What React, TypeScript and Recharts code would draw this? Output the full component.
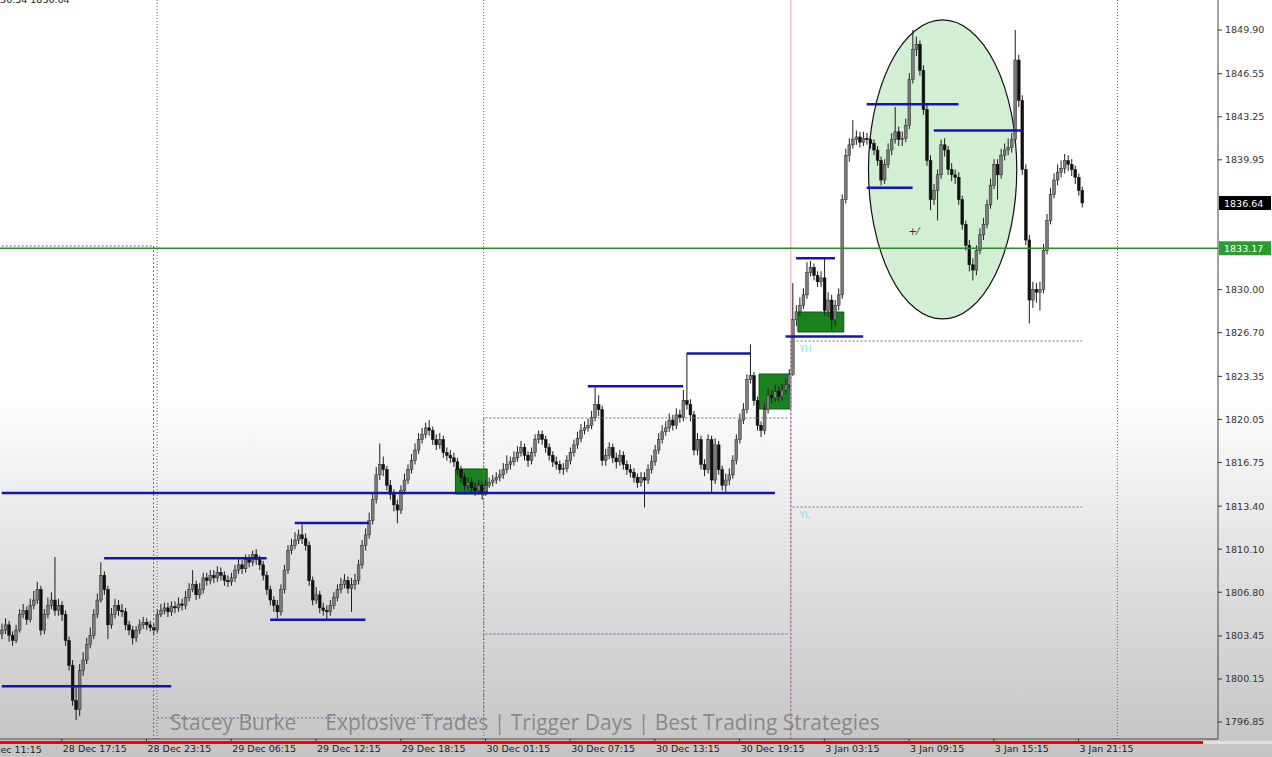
import React from 'react'
import {
  ComposedChart, Bar, XAxis, YAxis, ReferenceLine, ReferenceArea,
} from 'recharts'

// M15 candles, 28 Dec -> 3 Jan. open of each bar = previous close
const FIRST_OPEN = 1803.6

const CLOSE = [
  1803.9, 1804.3, 1803.5, 1803.1, 1803.9, 1805.1, 1805.4, 1804.7, 1805.8, 1806.2,
  1807.0, 1803.9, 1805.1, 1805.8, 1806.2, 1805.4, 1805.8, 1805.1, 1803.1, 1801.2,
  1798.5, 1797.8, 1800.8, 1801.6, 1802.8, 1803.5, 1805.1, 1806.2, 1808.1, 1807.0,
  1804.3, 1805.1, 1805.8, 1805.4, 1805.3, 1804.3, 1803.9, 1803.3, 1803.9, 1804.3,
  1804.5, 1804.3, 1804.1, 1803.9, 1805.1,
  1805.4, 1805.6, 1805.3, 1805.7, 1805.6, 1805.9, 1805.8, 1806.4, 1807.0, 1807.4,
  1806.6, 1807.0, 1807.9, 1807.7, 1808.1, 1807.9, 1808.3, 1808.1, 1807.7, 1807.6,
  1807.9, 1808.5, 1808.9, 1808.6, 1809.3, 1809.1, 1809.7, 1809.3, 1808.9, 1808.1,
  1807.0, 1806.2, 1805.8, 1805.3, 1807.0, 1808.5, 1810.0, 1810.4, 1810.8, 1811.2,
  1810.9, 1810.4, 1807.7, 1806.2, 1806.6, 1805.6, 1805.4, 1805.3, 1805.8, 1806.4,
  1807.0, 1807.4, 1807.7, 1807.1, 1807.4, 1807.7, 1808.9, 1810.4, 1811.2, 1812.3,
  1813.9, 1815.8, 1816.6, 1816.2, 1815.0, 1814.3, 1813.5, 1813.1, 1814.6, 1815.4,
  1816.2, 1816.9, 1817.7, 1818.5, 1818.9, 1819.4, 1819.2, 1818.5, 1818.1, 1818.5,
  1817.5, 1817.3, 1817.1, 1816.8, 1816.2, 1815.6, 1815.0, 1815.2, 1814.8, 1814.6,
  1815.0, 1814.5, 1815.0, 1815.2, 1815.4, 1815.6, 1815.8, 1816.2, 1816.6, 1816.8,
  1817.1, 1817.5, 1817.9, 1817.3, 1816.9, 1817.5, 1818.5, 1818.9, 1818.5, 1817.9,
  1817.3, 1816.8, 1816.6, 1816.2, 1816.3, 1816.9, 1817.5, 1818.1, 1818.6, 1819.2,
  1819.4, 1819.6, 1820.2, 1821.2, 1820.8, 1816.9, 1817.3, 1817.9, 1817.1, 1816.8,
  1817.3, 1816.6, 1816.2, 1816.0, 1815.6, 1815.2, 1815.6, 1815.4, 1816.2, 1816.8,
  1817.7, 1818.5, 1819.1, 1819.4, 1820.0, 1819.6, 1820.4, 1820.2, 1821.5, 1821.2,
  1820.4, 1817.7, 1818.5, 1816.6, 1816.2, 1818.5, 1815.4, 1818.1, 1816.2, 1815.0,
  1815.4, 1815.8, 1816.9, 1818.5, 1820.0, 1820.8, 1823.1, 1823.4, 1821.5, 1819.6,
  1819.2, 1820.8, 1821.9, 1821.7, 1822.2, 1821.8, 1822.3, 1822.7, 1823.5,
  1827.7, 1828.3, 1828.8, 1829.6, 1831.3, 1831.7, 1831.1, 1830.6, 1830.9, 1828.4,
  1829.2, 1827.7, 1828.8, 1829.6, 1836.9, 1840.3, 1841.1, 1841.5, 1841.7, 1841.3,
  1841.6, 1841.5, 1841.2, 1840.7, 1839.9, 1838.4, 1839.6, 1840.7, 1841.5, 1842.1,
  1841.5, 1841.6, 1842.6, 1846.1, 1848.4, 1848.8, 1846.8, 1843.8, 1839.9, 1836.9,
  1837.6, 1838.8, 1841.1, 1840.7, 1839.2, 1838.8, 1838.6, 1836.9, 1835.0, 1833.4,
  1831.9, 1831.5, 1833.0, 1834.2, 1835.0, 1836.5, 1838.0, 1839.6, 1838.8, 1840.3,
  1840.7, 1840.9, 1841.5, 1847.6, 1844.5, 1839.2, 1833.8, 1829.2, 1830.0, 1829.8,
  1830.0, 1833.0, 1835.3, 1837.3, 1838.4, 1839.0, 1839.3, 1839.9, 1839.6, 1839.2,
  1838.6, 1837.6, 1836.64,
]

const HIGH = [
  1804.4, 1804.8, 1804.6, 1803.8, 1804.3, 1805.5, 1805.9, 1805.7, 1806.3, 1806.9,
  1807.6, 1807.3, 1805.5, 1806.4, 1806.8, 1809.5, 1806.3, 1806.1, 1805.4, 1803.4,
  1801.6, 1799.6, 1801.3, 1802.2, 1803.3, 1804.1, 1805.5, 1806.7, 1809.1, 1808.4,
  1807.3, 1805.6, 1806.3, 1806.2, 1805.9, 1805.6, 1804.6, 1804.2, 1804.2, 1804.7,
  1804.9, 1804.8, 1804.6, 1804.4, 1805.5,
  1805.9, 1806.0, 1806.0, 1806.1, 1806.1, 1806.4, 1806.3, 1806.9, 1807.5, 1808.5,
  1807.7, 1807.5, 1808.3, 1808.3, 1808.5, 1808.5, 1808.8, 1808.7, 1808.4, 1808.1,
  1808.3, 1808.9, 1809.4, 1809.3, 1809.7, 1809.7, 1810.0, 1810.1, 1809.6, 1809.2,
  1808.4, 1807.3, 1806.5, 1806.2, 1807.4, 1808.9, 1810.4, 1810.9, 1811.4, 1811.6,
  1812.0, 1811.3, 1810.7, 1808.0, 1807.2, 1806.9, 1806.0, 1805.8, 1806.2, 1806.8,
  1807.4, 1807.9, 1808.2, 1808.0, 1807.9, 1808.2, 1809.3, 1810.8, 1811.7, 1812.9,
  1814.4, 1816.4, 1818.2, 1817.2, 1816.5, 1815.4, 1814.7, 1813.9, 1815.0, 1815.9,
  1816.6, 1817.4, 1818.2, 1819.0, 1819.4, 1819.8, 1820.0, 1819.5, 1818.9, 1819.0,
  1818.8, 1817.9, 1817.7, 1817.5, 1817.1, 1816.5, 1815.9, 1815.6, 1815.6, 1815.2,
  1815.4, 1815.3, 1815.4, 1815.6, 1815.8, 1816.0, 1816.2, 1816.7, 1817.3, 1817.2,
  1817.6, 1818.0, 1818.4, 1818.2, 1817.6, 1817.9, 1818.9, 1819.2, 1819.2, 1818.8,
  1818.2, 1817.6, 1817.2, 1816.9, 1816.7, 1817.3, 1817.9, 1818.5, 1819.1, 1819.7,
  1819.9, 1820.1, 1820.7, 1822.5, 1821.9, 1821.1, 1817.8, 1818.3, 1818.2, 1817.5,
  1817.7, 1817.6, 1816.9, 1816.6, 1816.3, 1815.9, 1816.0, 1816.0, 1816.6, 1817.3,
  1818.1, 1819.0, 1819.6, 1819.9, 1820.5, 1820.4, 1820.9, 1820.8, 1822.3, 1825.1,
  1821.6, 1820.7, 1819.0, 1818.8, 1817.0, 1818.9, 1818.8, 1818.6, 1818.4, 1816.5,
  1815.9, 1816.3, 1817.3, 1818.9, 1820.5, 1821.3, 1823.5, 1825.8, 1823.7, 1821.8,
  1819.9, 1821.2, 1822.4, 1822.3, 1822.7, 1822.6, 1822.8, 1823.2, 1823.9,
  1830.5, 1828.8, 1829.4, 1830.1, 1832.1, 1832.2, 1832.0, 1831.4, 1831.4, 1832.4,
  1829.8, 1829.6, 1829.2, 1830.1, 1837.3, 1840.8, 1841.6, 1843.0, 1842.2, 1842.1,
  1842.1, 1842.0, 1841.9, 1841.5, 1841.0, 1840.2, 1840.0, 1841.2, 1842.0, 1844.0,
  1842.5, 1842.1, 1843.1, 1846.6, 1849.9, 1849.4, 1849.1, 1847.2, 1844.2, 1840.3,
  1838.1, 1839.2, 1841.5, 1841.6, 1841.0, 1839.7, 1839.2, 1839.0, 1837.2, 1835.3,
  1833.8, 1832.4, 1833.4, 1834.7, 1835.5, 1836.9, 1838.5, 1840.0, 1840.0, 1840.8,
  1841.2, 1841.6, 1842.0, 1849.9, 1848.0, 1844.9, 1839.6, 1834.2, 1830.6, 1830.5,
  1830.6, 1833.5, 1835.8, 1837.8, 1838.9, 1839.6, 1839.9, 1840.4, 1840.3, 1840.0,
  1839.5, 1838.9, 1837.9,
]

const LOW = [
  1803.2, 1803.6, 1803.0, 1802.7, 1802.9, 1803.7, 1804.8, 1804.3, 1804.5, 1805.5,
  1805.9, 1803.5, 1803.6, 1804.8, 1805.5, 1805.0, 1805.0, 1804.6, 1802.7, 1800.8,
  1798.1, 1797.0, 1797.3, 1800.4, 1801.3, 1802.5, 1803.2, 1804.8, 1806.0, 1806.6,
  1803.2, 1804.0, 1804.8, 1805.0, 1804.9, 1803.9, 1803.5, 1802.8, 1803.0, 1803.6,
  1804.0, 1803.9, 1803.8, 1803.5, 1803.7,
  1804.9, 1805.1, 1804.9, 1805.0, 1805.2, 1805.3, 1805.4, 1805.5, 1806.1, 1806.8,
  1806.2, 1806.3, 1806.7, 1807.3, 1807.4, 1807.5, 1807.6, 1807.7, 1807.3, 1807.2,
  1807.3, 1807.6, 1808.2, 1808.2, 1808.3, 1808.7, 1808.8, 1808.9, 1808.5, 1807.7,
  1806.6, 1805.8, 1805.3, 1804.8, 1805.0, 1806.7, 1808.2, 1809.7, 1810.1, 1810.5,
  1810.5, 1810.0, 1807.3, 1805.8, 1805.9, 1805.2, 1805.0, 1804.7, 1805.0, 1805.5,
  1806.1, 1806.7, 1807.1, 1806.7, 1805.3, 1807.0, 1807.4, 1808.6, 1810.0, 1810.9,
  1812.0, 1813.6, 1815.4, 1815.7, 1814.6, 1813.9, 1813.0, 1812.1, 1812.8, 1814.3,
  1815.1, 1815.9, 1816.6, 1817.4, 1818.2, 1818.6, 1818.8, 1818.1, 1817.7, 1817.8,
  1817.1, 1816.9, 1816.7, 1816.4, 1815.8, 1815.2, 1814.6, 1814.6, 1814.4, 1814.2,
  1814.3, 1813.9, 1814.2, 1814.8, 1814.9, 1815.1, 1815.3, 1815.5, 1815.9, 1816.2,
  1816.5, 1816.8, 1817.2, 1816.9, 1816.4, 1816.6, 1817.2, 1818.2, 1818.1, 1817.5,
  1816.9, 1816.4, 1816.2, 1815.9, 1815.8, 1816.0, 1816.6, 1817.2, 1817.8, 1818.3,
  1818.9, 1819.1, 1819.3, 1819.9, 1820.3, 1816.5, 1816.5, 1817.0, 1816.7, 1816.3,
  1816.5, 1816.2, 1815.8, 1815.6, 1815.2, 1814.8, 1814.9, 1813.3, 1815.1, 1815.9,
  1816.5, 1817.4, 1818.2, 1818.8, 1819.1, 1819.2, 1819.3, 1819.8, 1819.9, 1820.8,
  1819.9, 1817.3, 1817.3, 1816.2, 1815.7, 1815.9, 1814.4, 1815.1, 1815.8, 1814.6,
  1814.4, 1815.0, 1815.5, 1816.6, 1818.2, 1819.7, 1820.5, 1822.8, 1821.1, 1819.2,
  1818.7, 1818.9, 1820.5, 1821.3, 1821.4, 1821.4, 1821.5, 1822.0, 1822.4,
  1823.4, 1827.2, 1828.0, 1828.5, 1829.3, 1831.0, 1830.7, 1830.2, 1830.2, 1828.0,
  1827.9, 1826.9, 1827.2, 1828.4, 1829.3, 1836.6, 1839.8, 1840.8, 1841.1, 1840.9,
  1841.0, 1841.1, 1840.8, 1840.3, 1839.5, 1838.0, 1838.1, 1839.3, 1840.3, 1841.2,
  1841.0, 1841.0, 1841.3, 1842.3, 1845.8, 1847.9, 1846.4, 1843.4, 1839.5, 1836.1,
  1836.5, 1835.3, 1838.5, 1840.2, 1838.8, 1838.3, 1838.1, 1836.5, 1834.6, 1833.0,
  1831.4, 1830.7, 1831.1, 1832.7, 1833.8, 1834.7, 1836.2, 1837.7, 1836.9, 1838.5,
  1839.9, 1840.3, 1840.5, 1841.2, 1844.0, 1838.8, 1833.4, 1827.4, 1828.6, 1829.0,
  1828.4, 1829.7, 1832.7, 1835.0, 1837.0, 1838.0, 1838.6, 1838.9, 1839.1, 1838.7,
  1838.1, 1837.2, 1836.3,
]

// empty slots on the right of the last bar (chart shift)
const TOTAL_SLOTS = 345

// time axis labels (bar number -> label)
const TICK_BARS = [17, 41, 65, 89, 113, 137, 161, 185, 209, 233, 257, 281, 305]
const TICK_LABELS = [
  '28 Dec 17:15', '28 Dec 23:15', '29 Dec 06:15', '29 Dec 12:15', '29 Dec 18:15',
  '30 Dec 01:15', '30 Dec 07:15', '30 Dec 13:15', '30 Dec 19:15',
  '3 Jan 03:15', '3 Jan 09:15', '3 Jan 15:15', '3 Jan 21:15',
]
const CUT_LABEL = '28 Dec 11:15'

const PRICE_TICKS = [
  1849.90, 1846.55, 1843.25, 1839.95, 1830.00, 1826.70, 1823.35, 1820.05,
  1816.75, 1813.40, 1810.10, 1806.80, 1803.45, 1800.15, 1796.85,
]
const PRICE_DOMAIN = [1795.55, 1852.20]

const BID = 1836.64
const GREEN_LEVEL = 1833.17

// blue horizontal levels drawn on the chart
const LEVELS = [
  { from: 0, to: 48, price: 1799.6 },
  { from: 29, to: 75, price: 1809.4 },
  { from: 76, to: 103, price: 1804.7 },
  { from: 83, to: 104, price: 1812.1 },
  { from: 0, to: 219, price: 1814.4 },
  { from: 166, to: 193, price: 1822.6 },
  { from: 194, to: 212, price: 1825.1 },
  { from: 222, to: 244, price: 1826.4 },
  { from: 225, to: 236, price: 1832.4 },
  { from: 245, to: 271, price: 1844.2 },
  { from: 264, to: 289, price: 1842.2 },
  { from: 245, to: 258, price: 1837.8 },
]

// yesterday high / low dotted lines
const PREV_DAY_LINES = [
  { from: 0, to: 43, price: 1833.34, tag: '' },
  { from: 44, to: 136, price: 1797.16, tag: '' },
  { from: 137, to: 223, price: 1820.16, tag: '' },
  { from: 137, to: 223, price: 1803.60, tag: '' },
  { from: 224, to: 306, price: 1826.06, tag: 'YH' },
  { from: 224, to: 306, price: 1813.33, tag: 'YL' },
]

const DAY_SEPARATORS = [44, 137, 316]
const WEEK_BREAK = 224

const GREEN_BOXES = [
  { from: 129, to: 137, top: 1816.25, bottom: 1814.33 },
  { from: 215, to: 223, top: 1823.53, bottom: 1820.85 },
  { from: 226, to: 238, top: 1828.28, bottom: 1826.75 },
]

const HIGHLIGHT = { from: 246, to: 287, top: 1850.67, bottom: 1827.75 }

const FONT = '"DejaVu Sans", Tahoma, sans-serif'
const DOT = '#6a6aa2'

const data = Array.from({ length: TOTAL_SLOTS }, (_, i) => {
  if (i >= CLOSE.length) return { i }
  const o = i === 0 ? FIRST_OPEN : CLOSE[i - 1]
  return { i, o, c: CLOSE[i], h: HIGH[i], l: LOW[i], range: [LOW[i], HIGH[i]] }
})

const Candle = (props: any) => {
  const { x, y, width, height, payload } = props
  if (!payload || payload.c == null) return null
  const { o, c, h, l } = payload
  const top = Math.min(y, y + height)
  const span = Math.abs(height)
  const py = (p: number) => top + ((h - p) / (h - l || 1)) * span
  const cx = x + width / 2
  const yo = py(o)
  const yc = py(c)
  const bull = c >= o
  const bt = Math.min(yo, yc)
  const bh = Math.max(1, Math.abs(yo - yc))
  return (
    <g>
      <line x1={cx} x2={cx} y1={top} y2={top + span} stroke="#1e1e1e" strokeWidth={1} />
      <rect x={cx - 1.4} y={bt} width={2.8} height={bh}
        fill={bull ? '#7c7c7c' : '#111'} stroke={bull ? '#2a2a2a' : '#111'} strokeWidth={0.5} />
    </g>
  )
}

const TimeTick = (props: any) => {
  const { x, y, payload } = props
  const label = TICK_LABELS[TICK_BARS.indexOf(payload.value)]
  return (
    <text x={x + 1} y={y + 8} fontSize={9.5} fill="#222" fontFamily={FONT} textAnchor="start">
      {label}
    </text>
  )
}

const axisTag = (text: string, bg: string) => (props: any) => {
  const vb = props.viewBox
  if (!vb) return null
  const x = vb.x + vb.width + 1
  return (
    <g>
      <rect x={x} y={vb.y - 7} width={52} height={14} fill={bg} />
      <text x={x + 5} y={vb.y + 4} fontSize={9.5} fill="#fff" fontFamily={FONT}>{text}</text>
    </g>
  )
}

const dayTag = (text: string) => (props: any) => {
  const vb = props.viewBox
  if (!vb || !text) return null
  return (
    <text x={vb.x + 7} y={vb.y + 11} fontSize={9} fill="#86dde6" fontFamily={FONT}>{text}</text>
  )
}

const Ellipse = (p: any) => (
  <g>
    <ellipse cx={p.x + p.width / 2} cy={p.y + p.height / 2} rx={p.width / 2} ry={p.height / 2}
      fill="rgba(140,214,140,0.38)" stroke="#111" strokeWidth={1.2} />
    <text x={p.x + p.width * 0.27} y={p.y + p.height * 0.72} fontSize={10} fill="#333"
      fontFamily={FONT}>+⁄</text>
  </g>
)

export default function App() {
  return (
    <div style={{
      position: 'absolute', left: 0, top: 0, width: 1272, height: 757, overflow: 'hidden',
      background: 'linear-gradient(to bottom, #ffffff 0%, #ffffff 52%, #efefef 64%, #d8d8d8 82%, #c4c4c4 100%)',
      fontFamily: FONT,
    }}>
      <ComposedChart width={1272} height={757} data={data}
        margin={{ top: 0, right: 0, bottom: 0, left: 0 }} barCategoryGap={0}>
        <XAxis dataKey="i" type="category" ticks={TICK_BARS} interval={0} height={18}
          tick={<TimeTick />} tickSize={3} tickLine={{ stroke: '#333' }}
          axisLine={{ stroke: '#444' }} />
        <YAxis orientation="right" type="number" width={54} domain={PRICE_DOMAIN}
          allowDataOverflow ticks={PRICE_TICKS} interval={0}
          tickFormatter={(v: number) => v.toFixed(2)} tickSize={4} tickMargin={3}
          tick={{ fontSize: 9.5, fill: '#333', fontFamily: FONT }}
          tickLine={{ stroke: '#333' }} axisLine={{ stroke: '#444' }} />

        {DAY_SEPARATORS.map(d => (
          <ReferenceLine key={'sep' + d} x={d} position={d === 137 ? 'start' : 'middle'}
            stroke="#666" strokeDasharray="1 2" />
        ))}
        <ReferenceLine x={WEEK_BREAK} position="start" stroke="#e6a3b8" strokeWidth={1} />
        <ReferenceLine position="start" stroke={DOT} strokeDasharray="2 2"
          segment={[{ x: WEEK_BREAK, y: 1826.06 }, { x: WEEK_BREAK, y: PRICE_DOMAIN[0] }]} />
        <ReferenceLine stroke={DOT} strokeDasharray="2 2"
          segment={[{ x: 43, y: 1833.34 }, { x: 43, y: PRICE_DOMAIN[0] }]} />
        <ReferenceLine position="start" stroke={DOT} strokeDasharray="2 2"
          segment={[{ x: 137, y: 1820.16 }, { x: 137, y: 1797.16 }]} />

        {PREV_DAY_LINES.map((d, k) => (
          <ReferenceLine key={'pd' + k} stroke={DOT} strokeDasharray="2 2"
            segment={[{ x: d.from, y: d.price }, { x: d.to, y: d.price }]}
            label={dayTag(d.tag)} />
        ))}

        {GREEN_BOXES.map((b, k) => (
          <ReferenceArea key={'gb' + k} x1={b.from} x2={b.to} y1={b.bottom} y2={b.top}
            fill="#0e7a12" fillOpacity={0.95} stroke="#0a5a0c" strokeWidth={1} />
        ))}

        <Bar dataKey="range" shape={<Candle />} isAnimationActive={false} />

        <ReferenceArea x1={HIGHLIGHT.from} x2={HIGHLIGHT.to} y1={HIGHLIGHT.bottom} y2={HIGHLIGHT.top}
          shape={<Ellipse />} />

        <ReferenceLine y={GREEN_LEVEL} stroke="#2b8c2b" strokeWidth={1.6}
          label={axisTag(GREEN_LEVEL.toFixed(2), '#2e9b30')} />
        <ReferenceLine y={BID} stroke="none" strokeOpacity={0}
          label={axisTag(BID.toFixed(2), '#000')} />

        {LEVELS.map((lv, k) => (
          <ReferenceLine key={'lv' + k} stroke="#1414b4" strokeWidth={2.5}
            segment={[{ x: lv.from, y: lv.price }, { x: lv.to, y: lv.price }]} />
        ))}
      </ComposedChart>

      <div style={{
        position: 'absolute', left: -12, top: -6, fontSize: 9.5, color: '#222', whiteSpace: 'nowrap',
      }}>1836.54 1836.64</div>

      <div style={{
        position: 'absolute', left: -22, top: 744, fontSize: 9.5, color: '#222', whiteSpace: 'nowrap',
      }}>{CUT_LABEL}</div>

      <div style={{
        position: 'absolute', left: 170, top: 708, fontSize: 21, whiteSpace: 'nowrap',
        fontFamily: '"Open Sans", sans-serif', color: 'rgba(110,110,110,0.72)',
      }}>
        <span>Stacey Burke</span>
        <span style={{ marginLeft: 29 }}>Explosive Trades | Trigger Days | Best Trading Strategies</span>
      </div>

      <div style={{ position: 'absolute', left: 0, top: 741, width: 1203, height: 3, background: '#ff0000' }} />
      <div style={{ position: 'absolute', left: 1203, top: 741, width: 69, height: 3, background: '#e2e2e2' }} />
    </div>
  )
}
